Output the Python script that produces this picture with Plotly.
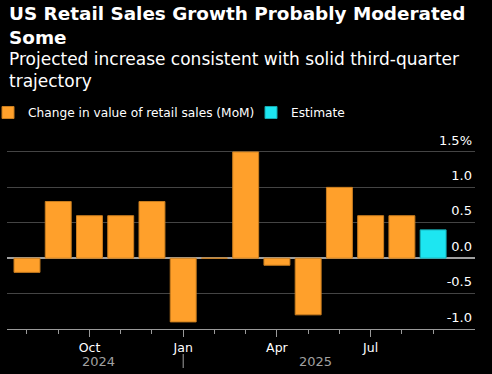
import plotly.graph_objects as go

# ---- data ----
months = ["2024-08", "2024-09", "2024-10", "2024-11", "2024-12", "2025-01", "2025-02",
          "2025-03", "2025-04", "2025-05", "2025-06", "2025-07", "2025-08"]
sales_mom = [-0.2, 0.8, 0.6, 0.6, 0.8, -0.9, 0.0, 1.5, -0.1, -0.8, 1.0, 0.6, 0.6]
estimate_month = ["2025-09"]
estimate_value = [0.4]
month_labels = {"01": "Jan", "04": "Apr", "07": "Jul", "10": "Oct"}
y_ticks = [-1.0, -0.5, 0.0, 0.5, 1.0, 1.5]
y_ticktext = ["-1.0", "-0.5", "0.0", "0.5", "1.0", "1.5%"]
years = ["2024", "2025"]

all_months = months + estimate_month
idx = {m: i for i, m in enumerate(all_months)}
x_sales = [idx[m] for m in months]
x_est = [idx[m] for m in estimate_month]

FONT = "DejaVu Sans"
ORANGE = "#FFA02B"
CYAN = "#1DE6F1"

fig = go.Figure()
fig.add_trace(go.Bar(x=x_sales, y=sales_mom, name="Change in value of retail sales (MoM)",
                     marker=dict(color=ORANGE, line=dict(color="#C97D1F", width=1)),
                     width=0.83, legend="legend"))
fig.add_trace(go.Bar(x=x_est, y=estimate_value, name="Estimate",
                     marker=dict(color=CYAN, line=dict(color="#15A9B0", width=1)),
                     width=0.83, legend="legend2"))

major_vals = [idx[m] for m in all_months if m[5:] in month_labels]
major_text = [month_labels[m[5:]] for m in all_months if m[5:] in month_labels]

W, H = 492, 374
L, R, T, B = 7, 17, 130, 45
ph = H - T - B
pw = W - L - R

def ypaper(px):
    return 1 + (T - px) / ph

def xpaper(px):
    return (px - L) / pw

leg_common = dict(orientation="h", yanchor="top", xanchor="left", y=ypaper(98),
                  font=dict(size=12.2, color="white"), bgcolor="rgba(0,0,0,0)",
                  itemclick=False)

fig.update_layout(
    width=W, height=H,
    margin=dict(l=L, r=R, t=T, b=B, autoexpand=False),
    paper_bgcolor="black", plot_bgcolor="black",
    barmode="overlay",
    font=dict(family=FONT, color="white", size=12),
    showlegend=True,
    legend=dict(x=xpaper(-12), **leg_common),
    legend2=dict(x=xpaper(251), **leg_common),
    xaxis=dict(range=[-0.64, 14.34], tickmode="array", tickvals=major_vals, ticktext=major_text,
               ticks="outside", ticklen=7, tickcolor="#9a9a9a", tickwidth=1,
               minor=dict(tickmode="array", tickvals=list(range(len(all_months))),
                          ticks="outside", ticklen=4, tickcolor="#9a9a9a"),
               showline=True, linecolor="#9a9a9a", linewidth=1, showgrid=False,
               zeroline=False, tickfont=dict(size=12.5, color="white")),
    yaxis=dict(range=[-1.0, 1.81], side="right", tickmode="array", tickvals=y_ticks,
               ticktext=y_ticktext, ticklabelposition="inside", ticklabelshift=-12,
               showgrid=True, gridcolor="#444444", gridwidth=1,
               zeroline=True, zerolinecolor="#a0a0a0", zerolinewidth=1.5,
               tickfont=dict(size=13, color="white"), ticks=""),
)

annotations = [
    dict(text="<b>US Retail Sales Growth Probably Moderated<br>Some</b>", x=0, y=ypaper(1),
         xref="paper", yref="paper", xanchor="left", yanchor="top", showarrow=False,
         align="left", font=dict(size=18.4, color="white", family=FONT)),
    dict(text="Projected increase consistent with solid third-quarter<br>trajectory", x=0,
         y=ypaper(47), xref="paper", yref="paper", xanchor="left", yanchor="top",
         showarrow=False, align="left", font=dict(size=17, color="white", family=FONT)),
]
# year labels
sep_x = idx["2025-01"]
year_x = [(-0.64 + sep_x) / 2 + 0.1, (sep_x + 13.5) / 2]
for yr, xv in zip(years, year_x):
    annotations.append(dict(text=yr, x=xv, y=ypaper(361), xref="x", yref="paper",
                            xanchor="center", yanchor="middle",
                            showarrow=False, font=dict(size=13, color="#a0a0a0", family=FONT)))
fig.update_layout(annotations=annotations)
fig.add_shape(type="line", x0=sep_x, x1=sep_x, y0=ypaper(354), y1=ypaper(368),
              xref="x", yref="paper", line=dict(color="#a0a0a0", width=1))

fig.write_html("out.html", config={"displayModeBar": False},
               post_script="document.body.style.margin='0px';")
